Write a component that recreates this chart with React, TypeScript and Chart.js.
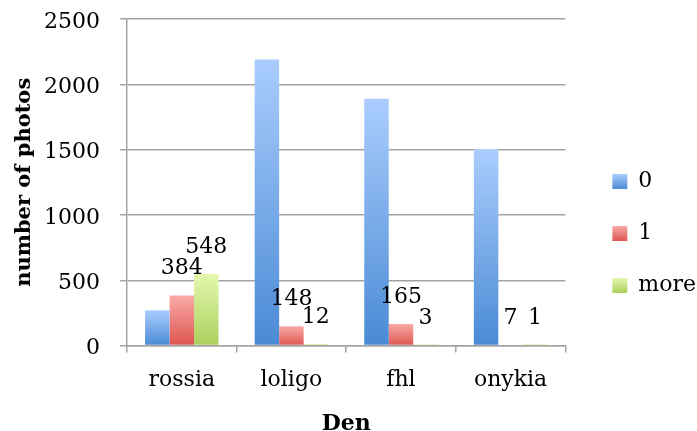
import React, { useEffect, useRef } from "react";
import { Chart, registerables } from "chart.js";

Chart.register(...registerables);

const categories = ["rossia", "loligo", "fhl", "onykia"];
const seriesNames = ["0", "1", "more"];
const values0 = [270, 2190, 1890, 1505];
const values1 = [384, 148, 165, 7];
const valuesMore = [548, 12, 3, 1];
const yTicks = [0, 500, 1000, 1500, 2000, 2500];
const labeledSeries = [1, 2];

const FONT = "'DejaVu Serif', serif";
const GRID = "#a3a3a3";
const gradientStops = [
  ["#aacdfd", "#4a8ad5"],
  ["#f9aaa7", "#de5550"],
  ["#e3f8ae", "#abd05d"],
];
const legendColors = ["#79abeb", "#ee817d", "#cbe58d"];

const Y_AXIS_WIDTH = 127;
const LEGEND_EXTRA_W = 8;
const LEGEND_SHIFT_X = 17;
const LEGEND_SHIFT_Y = 17;
const LEGEND_BOX = 15;

function barFill(si: number) {
  return (ctx: any) => {
    const chart = ctx.chart;
    if (ctx.type !== "data" || !chart.chartArea) return legendColors[si];
    const ys = chart.scales.y;
    const top = ys.getPixelForValue(ctx.raw);
    const bot = ys.getPixelForValue(0);
    if (bot - top < 1) return gradientStops[si][1];
    const g = chart.ctx.createLinearGradient(0, top, 0, bot);
    g.addColorStop(0, gradientStops[si][0]);
    g.addColorStop(1, gradientStops[si][1]);
    return g;
  };
}

const valueLabels = {
  id: "valueLabels",
  afterDatasetsDraw(chart: any) {
    const ctx = chart.ctx;
    ctx.save();
    ctx.font = `22px ${FONT}`;
    ctx.fillStyle = "#000";
    ctx.textAlign = "center";
    ctx.textBaseline = "alphabetic";
    labeledSeries.forEach((di) => {
      const meta = chart.getDatasetMeta(di);
      meta.data.forEach((el: any, i: number) => {
        const v = chart.data.datasets[di].data[i];
        ctx.fillText(String(v), el.x, el.y - 21);
      });
    });
    ctx.restore();
  },
};

const legendPlace = {
  id: "legendPlace",
  beforeLayout(chart: any) {
    const lg = chart.legend;
    if (lg && !lg.__patched) {
      const orig = lg.fit.bind(lg);
      lg.fit = function () {
        orig();
        this.width += LEGEND_EXTRA_W;
      };
      lg.__patched = true;
    }
  },
  afterLayout(chart: any) {
    const lg = chart.legend;
    if (lg) {
      lg.left += LEGEND_SHIFT_X;
      lg.top += LEGEND_SHIFT_Y;
    }
  },
  beforeDraw(chart: any) {
    const lg = chart.legend;
    if (!lg || !lg.legendItems || !lg.legendHitBoxes) return;
    lg.legendItems.forEach((item: any, i: number) => {
      const hb = lg.legendHitBoxes[i];
      if (!hb) return;
      const top = hb.top + (hb.height - LEGEND_BOX) / 2;
      const g = chart.ctx.createLinearGradient(0, top, 0, top + LEGEND_BOX);
      g.addColorStop(0, gradientStops[i][0]);
      g.addColorStop(1, gradientStops[i][1]);
      item.fillStyle = g;
    });
  },
};

export default function App() {
  const ref = useRef<HTMLCanvasElement | null>(null);
  useEffect(() => {
    if (!ref.current) return;
    const seriesData = [values0, values1, valuesMore];
    const chart = new Chart(ref.current, {
      type: "bar",
      data: {
        labels: categories,
        datasets: seriesNames.map((name, si) => ({
          label: name,
          data: seriesData[si],
          backgroundColor: barFill(si),
          borderWidth: 0,
          categoryPercentage: 0.67,
          barPercentage: 1,
        })),
      },
      options: {
        animation: false,
        responsive: true,
        maintainAspectRatio: false,
        layout: { padding: { left: 0, top: 19, right: 0, bottom: 0 } },
        plugins: {
          tooltip: { enabled: false },
          legend: {
            position: "right",
            labels: {
              boxWidth: LEGEND_BOX,
              boxHeight: LEGEND_BOX,
              padding: 30,
              color: "#000",
              font: { family: FONT, size: 22 },
              generateLabels: (c: any) =>
                c.data.datasets.map((d: any, i: number) => ({
                  text: d.label,
                  fillStyle: legendColors[i],
                  strokeStyle: legendColors[i],
                  lineWidth: 0,
                  hidden: false,
                  datasetIndex: i,
                  fontColor: "#000",
                })),
            },
          },
        },
        scales: {
          x: {
            ticks: {
              font: { family: FONT, size: 22, lineHeight: 2.49 },
              color: "#000",
              padding: 0,
            },
            grid: {
              display: true,
              drawOnChartArea: false,
              drawTicks: true,
              tickLength: 7,
              color: GRID,
              lineWidth: 1.5,
              offset: true,
            },
            border: { color: GRID, width: 1.5 },
            title: {
              display: true,
              text: "Den",
              color: "#000",
              font: { family: FONT, size: 22, weight: "bold" },
              padding: { top: 3.2, bottom: -6 },
            },
          },
          y: {
            min: 0,
            max: 2500,
            afterBuildTicks: (s: any) => {
              s.ticks = yTicks.map((v) => ({ value: v }));
            },
            afterFit: (s: any) => {
              s.width = Y_AXIS_WIDTH;
              s.paddingTop = 0;
              s.paddingBottom = 0;
            },
            ticks: {
              font: { family: FONT, size: 22 },
              color: "#000",
              padding: 20,
              labelOffset: 3,
              callback: (v: any) => String(v),
            },
            grid: { color: GRID, lineWidth: 1.5, tickLength: 7, drawTicks: true },
            border: { color: GRID, width: 1.5 },
            title: {
              display: true,
              text: "number of photos",
              color: "#000",
              font: { family: FONT, size: 21, weight: "bold" },
              padding: { top: 12, bottom: 0 },
            },
          },
        },
      },
      plugins: [valueLabels, legendPlace],
    });
    return () => chart.destroy();
  }, []);
  return (
    <div style={{ position: "fixed", left: 0, top: 0, width: 697, height: 431, background: "#fff" }}>
      <canvas ref={ref} />
    </div>
  );
}
